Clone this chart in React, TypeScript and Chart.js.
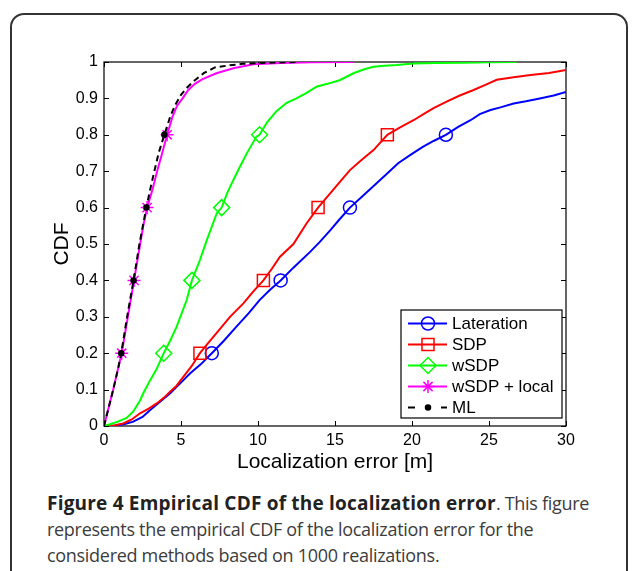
import React, { useEffect, useRef } from 'react';
import { Chart, registerables } from 'chart.js';

Chart.register(...registerables);

// ---------- data ----------
const seriesLabels = ['Lateration', 'SDP', 'wSDP', 'wSDP + local', 'ML'];
const markerLevels = [0.2, 0.4, 0.6, 0.8];
const xTickValues = [0, 5, 10, 15, 20, 25, 30];
const yTickValues = [0, 0.1, 0.2, 0.3, 0.4, 0.5, 0.6, 0.7, 0.8, 0.9, 1];

const latX = [0, 0.6, 1.3, 1.9, 2.5, 3.0, 3.6, 4.3, 4.9, 5.6, 6.3, 7.0, 7.8, 8.6, 9.4, 10.1, 10.8, 11.47, 12.3, 13.4, 14.0, 14.7, 15.3, 15.97, 16.8, 17.7, 18.3, 19.1, 19.9, 20.7, 21.4, 22.2, 23.0, 23.8, 24.4, 25.1, 25.8, 26.6, 27.4, 28.3, 29.2, 30];
const latY = [0, 0, 0.005, 0.012, 0.025, 0.044, 0.065, 0.09, 0.115, 0.145, 0.17, 0.2, 0.235, 0.273, 0.31, 0.346, 0.375, 0.4, 0.435, 0.479, 0.505, 0.538, 0.568, 0.6, 0.632, 0.667, 0.69, 0.722, 0.745, 0.767, 0.783, 0.8, 0.822, 0.84, 0.857, 0.868, 0.876, 0.886, 0.892, 0.9, 0.908, 0.918];

const sdpX = [0, 0.7, 1.25, 1.8, 2.34, 2.9, 3.42, 3.9, 4.29, 4.7, 5.15, 5.7, 6.23, 6.8, 7.4, 8.18, 9.05, 9.7, 10.35, 10.9, 11.43, 12.3, 13.16, 13.9, 14.7, 15.43, 15.97, 16.7, 17.5, 18.4, 19.2, 20.1, 20.8, 21.4, 22.25, 23.1, 24.0, 24.8, 25.5, 26.6, 27.7, 28.9, 30];
const sdpY = [0, 0.002, 0.007, 0.018, 0.035, 0.048, 0.062, 0.078, 0.094, 0.11, 0.135, 0.165, 0.2, 0.23, 0.26, 0.3, 0.337, 0.37, 0.4, 0.432, 0.465, 0.5, 0.557, 0.6, 0.64, 0.676, 0.703, 0.73, 0.758, 0.8, 0.82, 0.84, 0.858, 0.873, 0.891, 0.908, 0.923, 0.938, 0.951, 0.958, 0.964, 0.97, 0.978];

const wsdpX = [0, 0.4, 0.9, 1.47, 1.9, 2.34, 2.55, 3.0, 3.4, 3.88, 4.3, 4.72, 5.37, 5.71, 6.23, 6.67, 7.32, 7.64, 8.0, 8.4, 8.8, 9.27, 9.9, 10.1, 10.6, 11.2, 11.86, 12.5, 13.1, 13.8, 14.5, 15.3, 16.2, 16.9, 17.5, 18.2, 19.0, 20.1, 21.5, 23.3, 25.0, 26.8];
const wsdpY = [0, 0.005, 0.012, 0.022, 0.04, 0.07, 0.09, 0.126, 0.155, 0.2, 0.235, 0.273, 0.346, 0.4, 0.456, 0.51, 0.584, 0.6, 0.64, 0.676, 0.71, 0.749, 0.795, 0.8, 0.835, 0.865, 0.888, 0.9, 0.914, 0.932, 0.94, 0.95, 0.969, 0.98, 0.987, 0.99, 0.992, 0.996, 0.997, 0.998, 0.999, 1.0];

const localX = [0, 0.3, 0.6, 0.9, 1.15, 1.35, 1.55, 1.75, 1.95, 2.15, 2.35, 2.55, 2.8, 3.15, 3.45, 3.78, 4.1, 4.45, 4.75, 5.1, 5.47, 5.9, 6.4, 7.3, 8.4, 9.7, 11.5, 13.5, 16.2];
const localY = [0, 0.05, 0.1, 0.155, 0.2, 0.25, 0.3, 0.35, 0.4, 0.45, 0.5, 0.55, 0.6, 0.65, 0.7, 0.75, 0.8, 0.85, 0.88, 0.9, 0.923, 0.94, 0.953, 0.969, 0.983, 0.994, 0.997, 0.999, 1.0];

const mlX = [0, 0.3, 0.6, 0.9, 1.12, 1.5, 1.92, 2.3, 2.75, 3.0, 3.27, 3.55, 3.92, 4.3, 4.6, 5.0, 5.4, 5.9, 6.5, 7.2, 8.0, 9.0, 10.5, 12.7];
const mlY = [0, 0.05, 0.1, 0.155, 0.2, 0.3, 0.4, 0.5, 0.6, 0.65, 0.7, 0.75, 0.8, 0.85, 0.88, 0.91, 0.93, 0.95, 0.97, 0.985, 0.99, 0.995, 0.998, 1.0];

// ---------- style ----------
const FONT = '"Liberation Sans", Arial, Helvetica, sans-serif';

type Style = { color: string; point: string; radius: number; fill: string; dash: number[] };
const styles: Style[] = [
  { color: '#0000ff', point: 'circle', radius: 6.5, fill: 'rgba(0,0,0,0)', dash: [] },
  { color: '#ff0000', point: 'rect', radius: 8.5, fill: 'rgba(0,0,0,0)', dash: [] },
  { color: '#00ff00', point: 'rectRot', radius: 8, fill: 'rgba(0,0,0,0)', dash: [] },
  { color: '#ff00ff', point: 'star', radius: 6.5, fill: 'rgba(0,0,0,0)', dash: [] },
  { color: '#000000', point: 'circle', radius: 2.5, fill: '#000000', dash: [6, 4] },
];

const zip = (xs: number[], ys: number[]) => xs.map((x, i) => ({ x, y: ys[i] }));

function drawMarker(ctx: CanvasRenderingContext2D, s: Style, cx: number, cy: number) {
  ctx.save();
  ctx.setLineDash([]);
  ctx.strokeStyle = s.color;
  ctx.fillStyle = s.fill;
  ctx.lineWidth = 1.5;
  ctx.beginPath();
  const r = s.radius;
  if (s.point === 'circle') {
    ctx.arc(cx, cy, r, 0, Math.PI * 2);
    ctx.fill();
  } else if (s.point === 'rect') {
    const h = r * Math.SQRT1_2;
    ctx.rect(cx - h, cy - h, 2 * h, 2 * h);
  } else if (s.point === 'rectRot') {
    ctx.moveTo(cx - r, cy);
    ctx.lineTo(cx, cy - r);
    ctx.lineTo(cx + r, cy);
    ctx.lineTo(cx, cy + r);
    ctx.closePath();
  } else if (s.point === 'star') {
    for (let k = 0; k < 4; k++) {
      const a = (k * Math.PI) / 4;
      ctx.moveTo(cx - Math.cos(a) * r, cy - Math.sin(a) * r);
      ctx.lineTo(cx + Math.cos(a) * r, cy + Math.sin(a) * r);
    }
  }
  ctx.stroke();
  ctx.restore();
}

const boxPlugin = {
  id: 'matlabBox',
  beforeDatasetsDraw(chart: any) {
    const { ctx, chartArea: a, scales } = chart;
    const x = scales.x;
    const y = scales.y;
    ctx.save();
    ctx.strokeStyle = '#000';
    ctx.lineWidth = 1.2;
    ctx.strokeRect(a.left, a.top, a.right - a.left, a.bottom - a.top);
    const t = 5;
    ctx.beginPath();
    xTickValues.forEach((v) => {
      const px = Math.round(x.getPixelForValue(v)) + 0.5;
      ctx.moveTo(px, a.bottom);
      ctx.lineTo(px, a.bottom - t);
      ctx.moveTo(px, a.top);
      ctx.lineTo(px, a.top + t);
    });
    yTickValues.forEach((v) => {
      const py = Math.round(y.getPixelForValue(v)) + 0.5;
      ctx.moveTo(a.left, py);
      ctx.lineTo(a.left + t, py);
      ctx.moveTo(a.right, py);
      ctx.lineTo(a.right - t, py);
    });
    ctx.lineWidth = 1;
    ctx.stroke();
    ctx.restore();
  },
};

const legendPlugin = {
  id: 'matlabLegend',
  afterDraw(chart: any) {
    const { ctx, chartArea: a } = chart;
    const w = 161;
    const h = 108;
    const x0 = a.right - 4 - w;
    const y0 = a.bottom - 8 - h;
    ctx.save();
    ctx.fillStyle = '#fff';
    ctx.fillRect(x0, y0, w, h);
    ctx.strokeStyle = '#000';
    ctx.lineWidth = 1.2;
    ctx.strokeRect(x0, y0, w, h);
    chart.data.datasets.forEach((ds: any, i: number) => {
      const s = styles[i];
      const cy = y0 + 13.5 + i * 21;
      const mx = x0 + 27;
      ctx.strokeStyle = s.color;
      ctx.lineWidth = 2;
      ctx.beginPath();
      if (s.dash.length) {
        ctx.moveTo(x0 + 7, cy);
        ctx.lineTo(x0 + 14, cy);
        ctx.moveTo(x0 + 40, cy);
        ctx.lineTo(x0 + 46, cy);
      } else {
        ctx.moveTo(x0 + 7, cy);
        ctx.lineTo(x0 + 46, cy);
      }
      ctx.stroke();
      drawMarker(ctx, s, mx, cy);
      ctx.fillStyle = '#000';
      ctx.font = `17px ${FONT}`;
      ctx.textBaseline = 'middle';
      ctx.textAlign = 'left';
      ctx.fillText(ds.label, x0 + 51, cy + 1);
    });
    ctx.restore();
  },
};

export default function App() {
  const ref = useRef<HTMLCanvasElement | null>(null);

  useEffect(() => {
    if (!ref.current) return;
    const series = [zip(latX, latY), zip(sdpX, sdpY), zip(wsdpX, wsdpY), zip(localX, localY), zip(mlX, mlY)];
    const datasets = series.map((data, i) => {
      const s = styles[i];
      return {
        label: seriesLabels[i],
        data,
        borderColor: s.color,
        borderWidth: 2,
        borderDash: s.dash,
        backgroundColor: s.fill,
        pointStyle: s.point,
        pointBorderColor: s.color,
        pointBackgroundColor: s.fill,
        pointBorderWidth: 1.5,
        pointRadius: (c: any) => (c.raw && markerLevels.includes(c.raw.y) ? s.radius : 0),
        pointHoverRadius: 0,
        tension: 0,
        fill: false,
        order: 4 - i,
      };
    });

    const chart = new Chart(ref.current, {
      type: 'line',
      data: { datasets },
      options: {
        animation: false,
        responsive: false,
        events: [],
        parsing: false as any,
        layout: { padding: { left: 50, top: 62, right: 67, bottom: 5 } },
        plugins: { legend: { display: false }, tooltip: { enabled: false } },
        scales: {
          x: {
            type: 'linear',
            min: 0,
            max: 30,
            afterBuildTicks: (s: any) => {
              s.ticks = xTickValues.map((v) => ({ value: v }));
            },
            afterFit: (s: any) => {
              s.height = 49;
            },
            grid: { display: false, drawTicks: false },
            border: { display: false },
            ticks: {
              padding: 5,
              color: '#000',
              maxRotation: 0,
              autoSkip: false,
              font: { family: FONT, size: 16 },
              callback: (v: any) => String(v),
            },
            title: {
              display: true,
              text: 'Localization error [m]',
              color: '#000',
              padding: 0,
              font: { family: FONT, size: 21 },
            },
          },
          y: {
            type: 'linear',
            min: 0,
            max: 1,
            afterBuildTicks: (s: any) => {
              s.ticks = yTickValues.map((v) => ({ value: v }));
            },
            afterFit: (s: any) => {
              s.width = 54;
            },
            grid: { display: false, drawTicks: false },
            border: { display: false },
            ticks: {
              padding: 6,
              color: '#000',
              autoSkip: false,
              font: { family: FONT, size: 16 },
              callback: (v: any) => String(Number(Number(v).toFixed(1))),
            },
            title: {
              display: true,
              text: 'CDF',
              color: '#000',
              padding: 0,
              font: { family: FONT, size: 21 },
            },
          },
        },
      } as any,
      plugins: [boxPlugin, legendPlugin],
    });
    return () => chart.destroy();
  }, []);

  return (
    <div style={{ position: 'absolute', left: 0, top: 0, width: 633, height: 571, overflow: 'hidden', background: '#fff' }}>
      <div
        style={{
          position: 'absolute',
          left: 10,
          top: 13,
          width: 618,
          height: 600,
          boxSizing: 'border-box',
          border: '2px solid #333',
          borderRadius: 14,
        }}
      />
      <canvas ref={ref} width={633} height={480} style={{ position: 'absolute', left: 0, top: 0, display: 'block' }} />
      <div
        style={{
          position: 'absolute',
          left: 47,
          top: 490,
          width: 570,
          fontFamily: '"Open Sans", "Noto Sans", sans-serif',
          fontSize: 18,
          letterSpacing: '-0.3px',
          lineHeight: '26px',
          color: '#3c3c3c',
        }}
      >
        <span style={{ fontWeight: 700, fontSize: 19, letterSpacing: '0.2px', color: '#222' }}>Figure 4 Empirical CDF of the localization error</span>. This figure represents the empirical CDF of the localization error for the considered methods based on 1000 realizations.
      </div>
    </div>
  );
}
